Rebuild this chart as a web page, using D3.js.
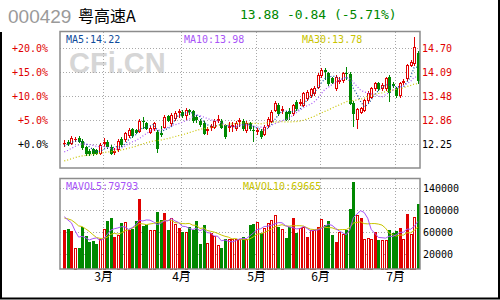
<!DOCTYPE html>
<html>
<head>
<meta charset="utf-8">
<script src="https://cdn.jsdelivr.net/npm/d3@7"></script>
<style>
body { margin: 0; background: #fff; }
svg { display: block; }
</style>
</head>
<body>
<div id="chart"></div>
<script>
// daily bars, Feb-Jul
var open = [12.27,12.30,12.27,12.37,12.41,12.33,12.17,12.07,12.11,12.09,
  12.03,12.28,12.31,12.18,12.07,12.11,12.37,12.37,12.48,12.63,
  12.60,12.59,12.84,12.78,12.56,12.65,12.56,12.52,12.69,12.96,
  12.78,12.91,13.08,13.07,12.99,13.11,13.09,12.95,12.84,12.79,
  12.62,12.70,12.69,12.89,12.84,12.73,12.70,12.72,12.65,12.84,
  12.84,12.61,12.78,12.62,12.58,12.59,12.51,12.73,12.84,13.12,
  13.25,13.13,13.07,13.08,13.03,13.33,13.30,13.25,13.42,13.50,
  13.54,13.71,14.01,14.14,14.05,13.93,13.67,13.86,13.88,14.06,
  14.03,13.30,12.88,13.07,13.12,13.37,13.46,13.67,13.80,13.67,
  13.67,13.97,13.78,13.67,13.50,13.84,13.93,14.27,14.31,14.58];
var close = [12.27,12.27,12.40,12.37,12.33,12.17,12.01,12.03,12.01,12.03,
  12.22,12.30,12.20,12.03,12.08,12.33,12.25,12.52,12.61,12.48,
  12.56,12.84,12.83,12.67,12.65,12.78,12.14,12.50,12.95,12.87,
  12.99,13.03,13.10,12.99,13.12,13.10,12.86,12.90,12.76,12.54,
  12.64,12.72,12.83,12.90,12.69,12.45,12.72,12.73,12.79,12.85,
  12.65,12.79,12.65,12.60,12.60,12.45,12.69,12.90,13.07,13.29,
  13.03,13.15,12.90,13.05,13.25,13.16,13.32,13.54,13.58,13.65,
  13.67,14.01,14.14,14.12,13.80,13.84,13.97,13.88,14.07,14.05,
  13.30,13.03,13.14,13.16,13.37,13.56,13.67,13.80,13.67,13.76,
  13.93,13.58,13.76,13.50,13.80,13.86,14.27,14.35,14.72,13.88];
var high = [12.35,12.36,12.45,12.42,12.46,12.38,12.20,12.12,12.15,12.13,
  12.27,12.40,12.36,12.22,12.15,12.38,12.43,12.56,12.66,12.67,
  12.64,12.88,12.93,12.82,12.70,12.82,12.60,12.70,12.99,13.00,
  13.03,13.08,13.15,13.11,13.16,13.14,13.12,12.98,12.88,12.83,
  12.68,12.76,12.88,12.98,12.88,12.76,12.80,12.80,12.83,12.92,
  12.88,12.84,12.82,12.70,12.66,12.64,12.73,12.94,13.11,13.34,
  13.30,13.22,13.10,13.18,13.28,13.37,13.40,13.58,13.62,13.69,
  13.72,14.05,14.18,14.20,14.08,13.97,14.00,13.95,14.10,14.22,
  14.10,13.34,13.18,13.20,13.40,13.60,13.71,13.84,13.84,13.80,
  13.97,14.00,13.84,13.71,13.84,13.92,14.30,14.40,14.99,14.62];
var low = [12.20,12.22,12.24,12.33,12.29,12.12,11.96,11.98,11.97,11.99,
  11.99,12.20,12.16,11.99,12.00,12.07,12.21,12.33,12.44,12.44,
  12.52,12.55,12.65,12.63,12.52,12.61,12.05,12.45,12.65,12.83,
  12.74,12.87,12.95,12.95,12.90,13.01,12.82,12.80,12.72,12.50,
  12.50,12.60,12.65,12.80,12.65,12.40,12.58,12.57,12.61,12.72,
  12.61,12.55,12.61,12.33,12.50,12.41,12.47,12.69,12.80,13.08,
  12.99,13.05,12.86,12.90,12.99,13.12,13.25,13.21,13.38,13.46,
  13.50,13.67,13.97,13.92,13.76,13.80,13.63,13.80,13.84,13.92,
  13.26,12.70,12.67,13.03,13.08,13.33,13.42,13.63,13.63,13.63,
  13.63,13.35,13.70,13.46,13.46,13.78,13.89,14.23,14.27,13.80];
var volume = [63600,65400,61800,31500,31500,69700,52700,42400,43600,38200,
  47300,65400,80000,86000,50900,54500,76900,78200,63600,65400,
  80000,120000,71500,72700,63600,63600,96900,81800,95100,63600,
  86000,74500,67800,60600,60600,69700,63600,80000,38800,72700,
  40000,58800,53300,36400,31500,47300,47300,47300,47300,47300,
  50900,47300,72700,74000,77600,57600,67800,75800,81800,90900,
  69700,65400,49700,69700,86000,57600,67800,69700,51500,63600,
  63600,69700,83600,72700,80000,54500,42400,59400,55700,63600,
  101800,151400,91400,85400,47800,49100,47300,60000,46000,45500,
  45500,64200,58200,61300,67300,47300,92700,56400,86700,110900];
// volume bar style: r = red filled, o = red hollow, g = green
var volStyle = "rgrogggggg" + "ooggrogorg" + "grggooggrg" + "oorgoggggg" + "orooggoooo" +
  "goggogoooo" + "goggrgooro" + "orogggroog" + "ggorooorgo" + "ogggroroog";
// closes and volumes before the first visible bar (feed the moving averages)
var priorClose = [11.50,11.55,11.48,11.60,11.62,11.58,11.65,11.70,11.68,11.72,
  11.75,11.70,11.78,11.80,11.76,11.82,11.85,11.80,11.88,11.84,
  11.86,11.92,11.88,11.95,11.89,12.05,12.15,12.22,12.31];
var priorVolume = [80000,85000,78000,90000,82000,95000,88000,102000,90400];

var basePrice = 12.25;
var pctTicks = [0, 5, 10, 15, 20];
var volTicks = [20000, 60000, 100000, 140000];
var months = ["3月", "4月", "5月", "6月", "7月"];
var monthStart = [11, 33, 54, 72, 93];
var quote = {code: "000429", name: "粤高速A", last: "13.88 -0.84 (-5.71%)"};
var maText = ["MA5:14.22", "MA10:13.98", "MA30:13.78"];
var volMaText = ["MAVOL5:79793", "MAVOL10:69665"];

var RED = "#e00000", GREEN = "#008800", GRID = "#a8a8a8";
var maColors = ["#104c9c", "#a855f7", "#c8c400"];

var width = 500, height = 300;
var svg = d3.select("#chart").append("svg")
    .attr("width", width).attr("height", height)
    .attr("font-family", "'DejaVu Sans Mono', monospace");

var left = 60, right = 420,
    pTop = 31.5, pBottom = 168,
    vTop = 178.5, vBottom = 269;

var x = d3.scaleLinear().domain([0, close.length - 1]).range([64.3, 417.7]);
var yP = d3.scaleLinear().domain([basePrice, basePrice * 1.2]).range([144, 48]);
var yV = d3.scaleLinear().domain([20000, 140000]).range([254, 188]);

function px(i) { return Math.round(x(i)) + 0.5; }
function py(v) { return Math.round(v) + 0.5; }

// outer frame (open at the top-left header)
svg.append("path").attr("d", "M1,32V298.5H499V0")
    .attr("fill", "none").attr("stroke", "#000").attr("stroke-width", 2);

// watermark
svg.append("text").attr("x", 69).attr("y", 73)
    .attr("font-family", "'Liberation Sans', Arial, sans-serif")
    .attr("font-weight", "bold").attr("font-size", 29)
    .attr("fill", "#d6d6d6").text("CFi.CN");

var grid = svg.append("g").attr("stroke", GRID).attr("stroke-dasharray", "1,2")
    .attr("shape-rendering", "crispEdges");

grid.selectAll(".hp").data(pctTicks).enter().append("line")
    .attr("x1", left).attr("x2", right)
    .attr("y1", function(d){ return py(yP(basePrice * (1 + d / 100))); })
    .attr("y2", function(d){ return py(yP(basePrice * (1 + d / 100))); });

grid.selectAll(".hv").data(volTicks).enter().append("line")
    .attr("x1", left).attr("x2", right)
    .attr("y1", function(d){ return py(yV(d)); })
    .attr("y2", function(d){ return py(yV(d)); });

monthStart.forEach(function(m){
    var xx = px(m) - 1;
    grid.append("line").attr("x1", xx).attr("x2", xx).attr("y1", pTop).attr("y2", pBottom);
    grid.append("line").attr("x1", xx).attr("x2", xx).attr("y1", vTop).attr("y2", vBottom);
});

function movingAvg(series, prior, n) {
    var all = prior.concat(series), off = prior.length;
    return series.map(function(d, i){
        return d3.mean(all.slice(Math.max(0, i + off - n + 1), i + off + 1));
    });
}

// candles
var candles = svg.append("g").attr("shape-rendering", "crispEdges");
close.forEach(function(c, i){
    var o = open[i], cx = px(i);
    var col = c < o ? GREEN : RED;
    candles.append("line").attr("x1", cx).attr("x2", cx)
        .attr("y1", Math.round(yP(high[i]))).attr("y2", Math.round(yP(low[i])) + 1)
        .attr("stroke", col);
    var top = Math.round(yP(Math.max(o, c))), bot = Math.round(yP(Math.min(o, c)));
    if (c > o) {
        candles.append("rect").attr("x", cx - 1).attr("y", top + 0.5)
            .attr("width", 2).attr("height", Math.max(1, bot - top))
            .attr("fill", "#fff").attr("stroke", RED);
    } else if (c < o) {
        candles.append("rect").attr("x", cx - 1.5).attr("y", top)
            .attr("width", 3).attr("height", Math.max(1, bot - top + 1))
            .attr("fill", GREEN);
    } else {
        candles.append("line").attr("x1", cx - 1.5).attr("x2", cx + 1.5)
            .attr("y1", top + 0.5).attr("y2", top + 0.5).attr("stroke", RED);
    }
});

// volume bars
var vols = svg.append("g").attr("shape-rendering", "crispEdges");
volume.forEach(function(v, i){
    var cx = px(i), t = Math.round(yV(v)), s = volStyle.charAt(i);
    if (s === "o") {
        vols.append("rect").attr("x", cx - 1).attr("y", t + 0.5)
            .attr("width", 2).attr("height", vBottom - t - 0.5)
            .attr("fill", "#fff").attr("stroke", RED);
    } else {
        vols.append("rect").attr("x", cx - 1.5).attr("y", t)
            .attr("width", 3).attr("height", vBottom - t)
            .attr("fill", s === "g" ? GREEN : RED);
    }
});

var ma = [movingAvg(close, priorClose, 5), movingAvg(close, priorClose, 10), movingAvg(close, priorClose, 30)];
var priceLine = d3.line().x(function(d, i){ return x(i); }).y(function(d){ return yP(d); });
ma.forEach(function(m, k){
    svg.append("path").attr("d", priceLine(m)).attr("fill", "none")
        .attr("stroke", maColors[k]).attr("stroke-width", 1.2).attr("stroke-dasharray", "1,2");
});

var vma = [movingAvg(volume, priorVolume, 5), movingAvg(volume, priorVolume, 10)];
var volLine = d3.line().x(function(d, i){ return x(i); }).y(function(d){ return yV(d); });
svg.append("path").attr("d", volLine(vma[1])).attr("fill", "none").attr("stroke", maColors[2]);
svg.append("path").attr("d", volLine(vma[0])).attr("fill", "none").attr("stroke", maColors[1]);

// panel borders
svg.append("rect").attr("x", left).attr("y", pTop).attr("width", right - left).attr("height", pBottom - pTop)
    .attr("fill", "none").attr("stroke", "#8c8c8c").attr("stroke-width", 1.5);
svg.append("rect").attr("x", left).attr("y", vTop).attr("width", right - left).attr("height", vBottom - vTop)
    .attr("fill", "none").attr("stroke", "#8c8c8c").attr("stroke-width", 1.5);

// header
svg.append("text").attr("x", 8).attr("y", 22.5)
    .attr("font-family", "'Liberation Sans', Arial, sans-serif").attr("font-size", 19)
    .attr("fill", "#9a9a9a").text(quote.code);
svg.append("text").attr("x", 78).attr("y", 21.5)
    .attr("font-family", "'Noto Sans CJK SC', sans-serif").attr("font-size", 16)
    .attr("fill", "#000").text(quote.name);
svg.append("text").attr("x", 240).attr("y", 18.5).attr("font-size", 13)
    .attr("fill", GREEN).text(quote.last);

// MA legends
var maX = [66, 184, 302];
maText.forEach(function(t, k){
    svg.append("text").attr("x", maX[k]).attr("y", 42.5).attr("font-size", 10)
        .attr("fill", maColors[k]).text(t);
});
svg.append("text").attr("x", 66).attr("y", 190).attr("font-size", 10)
    .attr("fill", maColors[1]).text(volMaText[0]);
svg.append("text").attr("x", 243).attr("y", 190).attr("font-size", 10)
    .attr("fill", maColors[2]).text(volMaText[1]);

// left percent axis, right price axis
pctTicks.forEach(function(p){
    var yy = yP(basePrice * (1 + p / 100));
    svg.append("text").attr("x", 48).attr("y", yy + 3.5).attr("text-anchor", "end")
        .attr("font-size", 10).attr("fill", p === 0 ? "#000" : RED)
        .text("+" + p.toFixed(1) + "%");
    svg.append("text").attr("x", 422).attr("y", yy + 3.5)
        .attr("font-size", 10).attr("fill", p === 0 ? "#000" : RED)
        .text((basePrice * (1 + p / 100)).toFixed(2));
});
volTicks.forEach(function(v){
    svg.append("text").attr("x", 423).attr("y", yV(v) + 3.5)
        .attr("font-size", 10).attr("fill", "#000").text(v);
});

// month labels and ticks
months.forEach(function(m, k){
    var xx = px(monthStart[k]) - 1;
    svg.append("text").attr("x", xx).attr("y", 281).attr("text-anchor", "middle")
        .attr("font-family", "'Noto Sans CJK SC', sans-serif").attr("font-size", 12)
        .attr("fill", "#000").text(m);
    svg.append("line").attr("x1", xx).attr("x2", xx + 8).attr("y1", 272.5).attr("y2", 272.5)
        .attr("stroke", "#000").attr("shape-rendering", "crispEdges");
});
</script>
</body>
</html>
